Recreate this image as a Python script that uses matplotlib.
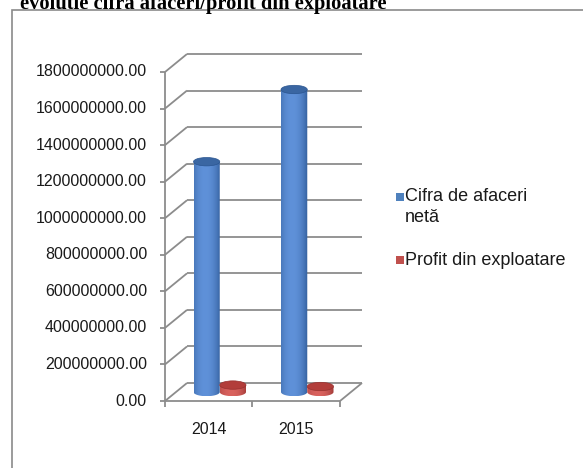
import matplotlib
matplotlib.use('Agg')
import matplotlib.pyplot as plt
import numpy as np
from matplotlib.patches import Ellipse, PathPatch, Rectangle
from matplotlib.path import Path
from matplotlib.colors import to_rgb

# ---------------- data ----------------
categories = ['2014', '2015']
cifra_afaceri = [1.26e9, 1.655e9]
profit_exploatare = [3.8e7, 3.0e7]
series_names = ['Cifra de afaceri\nnetă', 'Profit din exploatare']
y_ticks = [0, 200000000, 400000000, 600000000, 800000000,
           1000000000, 1200000000, 1400000000, 1600000000, 1800000000]
title = 'evolutie cifra afaceri/profit din exploatare'

# ---------------- layout ----------------
W, H = 583, 468
fig = plt.figure(figsize=(W / 100, H / 100), dpi=100)
plt.rcParams['font.family'] = ['Liberation Sans', 'DejaVu Sans']

FRONT_LEFT = 165.0
CAT_PX = 87.5
FLOOR_Y = 67.0          # px from bottom for value 0 (front plane)
TOP_Y = 396.0           # px from bottom for y max (front plane)
DXP, DYP = 22.0, 18.0   # depth offset in px
YMAX = y_ticks[-1]
vpp = YMAX / (TOP_Y - FLOOR_Y)
DX = DXP / CAT_PX
DY = DYP * vpp
ncat = len(categories)

ax = fig.add_axes([FRONT_LEFT / W, FLOOR_Y / H,
                   (ncat * CAT_PX + DXP) / W, (TOP_Y - FLOOR_Y + DYP) / H])
ax.axis('off')

GRID = '#8c8c8c'
LW = 1.3
kw = dict(color=GRID, lw=LW, clip_on=False, solid_capstyle='butt', zorder=1)

for v in y_ticks:
    ax.plot([0, DX], [v, v + DY], **kw)
    ax.plot([DX, ncat + DX], [v + DY, v + DY], **kw)
    ax.plot([-5 / CAT_PX, 0], [v, v], **kw)
    ax.text(-18 / CAT_PX, v, f'{v:.2f}', ha='right', va='center',
            fontsize=11.5, color='#1a1a1a')
ax.plot([0, 0], [0, YMAX], **kw)
ax.plot([0, ncat], [0, 0], **kw)
ax.plot([ncat, ncat + DX], [0, DY], **kw)
for i in range(ncat + 1):
    ax.plot([i, i], [0, -6 * vpp], **kw)
for i, c in enumerate(categories):
    ax.text(i + 0.5, -28 * vpp, c, ha='center', va='center',
            fontsize=11.5, color='#1a1a1a')

# ---------------- cylinders ----------------
BAR_W = 0.3
ELL_B = 4.2 * vpp


def cylinder(cx, val, dark, light, topc, z):
    cxx = cx + DX / 2
    base = DY / 2
    top = base + val
    x0, x1 = cxx - BAR_W / 2, cxx + BAR_W / 2
    t = np.linspace(0, -np.pi, 60)
    arc = np.column_stack([cxx + BAR_W / 2 * np.cos(t), base + ELL_B * np.sin(t)])
    verts = np.vstack([[x0, top], [x1, top], [x1, base], arc, [x0, top]])
    body = PathPatch(Path(verts), fc='none', ec='none', zorder=z)
    ax.add_patch(body)
    u = np.linspace(0, 1, 120)
    shade = np.clip(1 - ((u - 0.42) / 0.6) ** 2, 0, 1) ** 0.8
    d, l = np.array(to_rgb(dark)), np.array(to_rgb(light))
    arr = (d[None, :] + (l - d)[None, :] * shade[:, None])[None, :, :]
    im = ax.imshow(arr, extent=(x0, x1, base - ELL_B, top), aspect='auto',
                   origin='lower', interpolation='bilinear', zorder=z)
    im.set_clip_path(body)
    ax.add_patch(Ellipse((cxx, top), BAR_W, 2 * ELL_B, fc=topc,
                         ec=dark, lw=0.5, zorder=z + 0.5))


BLUE = ('#2a5590', '#5f91d9', '#3a66a2')
RED = ('#963230', '#d9625e', '#b23d3a')
for i in range(ncat):
    cylinder(i + 0.5 - BAR_W / 2, cifra_afaceri[i], *BLUE, z=3 + i)
    cylinder(i + 0.5 + BAR_W / 2, profit_exploatare[i], *RED, z=3.2 + i)

ax.set_xlim(0, ncat + DX)
ax.set_ylim(0, YMAX + DY)

# ---------------- legend ----------------
leg_y = [197, 260]
leg_text_base = [201, 265]
LINE_STEP = 21
for (name, col, yc, yb) in zip(series_names, ['#4f81bd', '#c0504d'], leg_y, leg_text_base):
    sq = 8
    fig.add_artist(Rectangle((396 / W, (H - yc - sq / 2) / H), sq / W, sq / H,
                             transform=fig.transFigure, fc=col, ec='none'))
    for k, line in enumerate(name.split('\n')):
        fig.text(405 / W, (H - yb - k * LINE_STEP) / H, line, ha='left',
                 va='baseline', fontsize=13, color='#1a1a1a')

# ---------------- frame & title ----------------
fig.add_artist(Rectangle((12 / W, -0.1), 2, (H - 10) / H + 0.1,
                         transform=fig.transFigure, fill=False,
                         ec='#8a8a8a', lw=1.2))
tt = fig.text(20 / W, (H - 9) / H, title, ha='left', va='baseline',
              fontfamily='Liberation Serif', fontweight='bold', fontsize=12)
fig.canvas.draw()
wpx = tt.get_window_extent().width
tt.set_fontsize(12 * 363 / wpx)

fig.savefig('out.png', dpi=100)
